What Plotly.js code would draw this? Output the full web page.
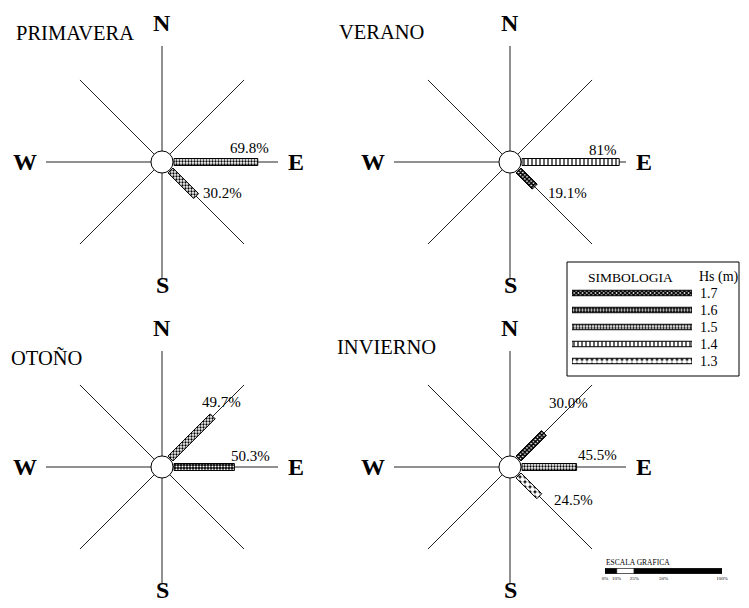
<!DOCTYPE html>
<html>
<head>
<meta charset="utf-8">
<script src="https://cdn.plot.ly/plotly-3.0.1.min.js"></script>
<style>body{margin:0;background:#fff} #chart{width:749px;height:608px}</style>
</head>
<body>
<div id="chart"></div>
<script>
// values
var seasons = ['PRIMAVERA', 'VERANO', 'OTOÑO', 'INVIERNO'];
var dirs = [['E', 'SE'], ['E', 'SE'], ['NE', 'E'], ['NE', 'E', 'SE']];
var pcts = [[69.8, 30.2], [81, 19.1], [49.7, 50.3], [30.0, 45.5, 24.5]];
var pctText = [['69.8%', '30.2%'], ['81%', '19.1%'], ['49.7%', '50.3%'], ['30.0%', '45.5%', '24.5%']];
var hs = [['1.5', '1.5'], ['1.4', '1.7'], ['1.5', '1.6'], ['1.7', '1.5', '1.3']];
var hsLevels = ['1.7', '1.6', '1.5', '1.4', '1.3'];
var scaleTicks = [0, 10, 25, 50, 100];
var scaleText = ['0%', '10%', '25%', '50%', '100%'];
var scaleFill = ['#000', '#fff', '#000', '#000'];

// layout constants (pixels)
var W = 749, H = 608;
var PX = 1.2;      // pixels per percent
var HALF = 140;    // half size of a rose subplot
var centers = [[162, 162], [510, 162], [162, 467], [510, 467]];
var titlePos = [[14, 33], [337, 32], [9, 357], [335, 347]];
var labelShift = [[[-8, -14], [26, -3]], [[-16, -12], [33, 6]], [[9, -14], [16, -11]], [[25, -30], [21, -12], [34, 4]]];
var letterDist = {N: 139, S: 123, W: 137, E: 134};
var angle = {N: 90, NE: 45, E: 0, SE: -45, S: -90, SW: -135, W: 180, NW: 135};
var R0 = 10, BARW = 5.8, SPOKE = 96.7, CIRCLE = 9.2;
var FONT = 'Liberation Serif, Times New Roman, serif';

var patterns = {
  '1.7': {shape: 'x', fgcolor: '#000', bgcolor: '#fff', size: 3, solidity: 0.75},
  '1.6': {shape: '.', fgcolor: '#fff', bgcolor: '#000', size: 3, solidity: 0.4},
  '1.5': {shape: '.', fgcolor: '#000', bgcolor: '#fff', size: 3, solidity: 0.45},
  '1.4': {shape: '|', fgcolor: '#000', bgcolor: '#fff', size: 4, solidity: 0.3},
  '1.3': {shape: '.', fgcolor: '#fff', bgcolor: '#000', size: 5, solidity: 0.75}
};

function px(x) { return x / W; }
function py(y) { return 1 - y / H; }
function unit(d) {
  var a = angle[d] * Math.PI / 180;
  return [Math.cos(a), Math.sin(a)];
}
function paperText(x, y, text, size, xanchor) {
  return {x: px(x), y: py(y), xref: 'paper', yref: 'paper', text: text, showarrow: false,
    xanchor: xanchor || 'center', yanchor: 'middle', font: {size: size, family: FONT}};
}

var data = [];
var layout = {
  width: W, height: H,
  margin: {l: 0, r: 0, t: 0, b: 0},
  paper_bgcolor: '#fff',
  plot_bgcolor: 'rgba(0,0,0,0)',
  showlegend: false,
  barmode: 'overlay',
  font: {family: FONT, color: '#000'},
  annotations: [],
  shapes: []
};

seasons.forEach(function(name, i) {
  var n = i + 1;
  var sfx = n === 1 ? '' : n;
  var xa = 'x' + sfx, ya = 'y' + sfx;
  var cx = centers[i][0], cy = centers[i][1];
  var rng = HALF / PX;
  layout['xaxis' + sfx] = {
    domain: [px(cx - HALF), px(cx + HALF)], range: [-rng, rng],
    visible: false, fixedrange: true, anchor: ya
  };
  layout['yaxis' + sfx] = {
    domain: [py(cy + HALF), py(cy - HALF)], range: [-rng, rng],
    visible: false, fixedrange: true, anchor: xa
  };

  // spokes
  var sx = [], sy = [];
  ['N', 'NE', 'E', 'SE', 'S', 'SW', 'W', 'NW'].forEach(function(d) {
    var u = unit(d);
    sx.push(0, u[0] * SPOKE, null);
    sy.push(0, u[1] * SPOKE, null);
  });
  data.push({x: sx, y: sy, xaxis: xa, yaxis: ya, type: 'scatter', mode: 'lines',
    line: {color: '#222', width: 1}, hoverinfo: 'skip'});

  // bars
  dirs[i].forEach(function(d, j) {
    var u = unit(d), nv = [-u[1], u[0]];
    var r1 = R0 + pcts[i][j], h = BARW / 2;
    var bx = [R0 * u[0] + h * nv[0], r1 * u[0] + h * nv[0], r1 * u[0] - h * nv[0], R0 * u[0] - h * nv[0], R0 * u[0] + h * nv[0]];
    var by = [R0 * u[1] + h * nv[1], r1 * u[1] + h * nv[1], r1 * u[1] - h * nv[1], R0 * u[1] - h * nv[1], R0 * u[1] + h * nv[1]];
    var p = patterns[hs[i][j]];
    data.push({x: bx, y: by, xaxis: xa, yaxis: ya, type: 'scatter', mode: 'lines',
      fill: 'toself', fillcolor: p.bgcolor,
      fillpattern: {shape: p.shape, fgcolor: p.fgcolor, bgcolor: p.bgcolor, size: p.size, solidity: p.solidity},
      line: {color: '#000', width: 1}, hoverinfo: 'skip'});
    layout.annotations.push({x: r1 * u[0], y: r1 * u[1], xref: xa, yref: ya,
      text: pctText[i][j], showarrow: false, xanchor: 'center', yanchor: 'middle',
      xshift: labelShift[i][j][0], yshift: -labelShift[i][j][1],
      font: {size: 15, family: FONT}});
  });

  // cardinal letters
  Object.keys(letterDist).forEach(function(d) {
    var u = unit(d), r = letterDist[d] / PX;
    layout.annotations.push({x: u[0] * r, y: u[1] * r, xref: xa, yref: ya,
      text: '<b>' + d + '</b>', showarrow: false, xanchor: 'center', yanchor: 'middle',
      font: {size: 24, family: FONT}});
  });

  // season title
  layout.annotations.push(paperText(titlePos[i][0], titlePos[i][1], name, 20.5, 'left'));

  // centre circle
  layout.shapes.push({type: 'circle', xref: xa, yref: ya, x0: -CIRCLE, x1: CIRCLE, y0: -CIRCLE, y1: CIRCLE,
    fillcolor: '#fff', line: {color: '#000', width: 1}});
});

// legend (SIMBOLOGIA)
layout.xaxis5 = {domain: [px(572), px(692)], range: [0, 1], visible: false, fixedrange: true, anchor: 'y5'};
layout.yaxis5 = {domain: [py(369.5), py(284.5)], type: 'category', categoryarray: hsLevels,
  autorange: 'reversed', side: 'right', tickmode: 'array', tickvals: hsLevels, ticktext: hsLevels,
  showline: false, showgrid: false, zeroline: false, ticks: '', ticklabelstandoff: 7,
  tickfont: {size: 14, family: FONT}, fixedrange: true, anchor: 'x5'};
hsLevels.forEach(function(k) {
  var p = patterns[k];
  data.push({type: 'bar', orientation: 'h', xaxis: 'x5', yaxis: 'y5',
    y: [k], x: [1], width: 0.32,
    marker: {color: p.bgcolor, line: {color: '#000', width: 1},
      pattern: {shape: p.shape, fgcolor: p.fgcolor, bgcolor: p.bgcolor, size: p.size, solidity: p.solidity}},
    hoverinfo: 'skip'});
});
layout.shapes.push({type: 'rect', xref: 'paper', yref: 'paper', x0: px(567), x1: px(739), y0: py(376), y1: py(262),
  line: {color: '#000', width: 1}, fillcolor: 'rgba(0,0,0,0)'});
layout.annotations.push(paperText(630, 277, 'SIMBOLOGIA', 13.5));
layout.annotations.push(paperText(719, 277, 'Hs (m)', 14));

// scale bar (ESCALA GRAFICA)
var segW = [], segB = [];
for (var k = 1; k < scaleTicks.length; k++) {
  segB.push(scaleTicks[k - 1]);
  segW.push(scaleTicks[k] - scaleTicks[k - 1]);
}
layout.xaxis6 = {domain: [px(605), px(722)], range: [0, 100], tickvals: scaleTicks, ticktext: scaleText,
  showgrid: false, zeroline: false, showline: false, ticks: '', tickfont: {size: 5, family: FONT},
  fixedrange: true, anchor: 'y6'};
layout.yaxis6 = {domain: [py(574), py(568)], visible: false, fixedrange: true, anchor: 'x6'};
data.push({type: 'bar', orientation: 'h', xaxis: 'x6', yaxis: 'y6',
  y: segW.map(function() { return 's'; }), x: segW, base: segB, width: 0.9,
  marker: {color: scaleFill, line: {color: '#000', width: 0.8}}, hoverinfo: 'skip'});
layout.annotations.push(paperText(604, 562, 'ESCALA GRAFICA', 7.5, 'left'));

Plotly.newPlot('chart', data, layout, {displayModeBar: false, staticPlot: true});
</script>
</body>
</html>
